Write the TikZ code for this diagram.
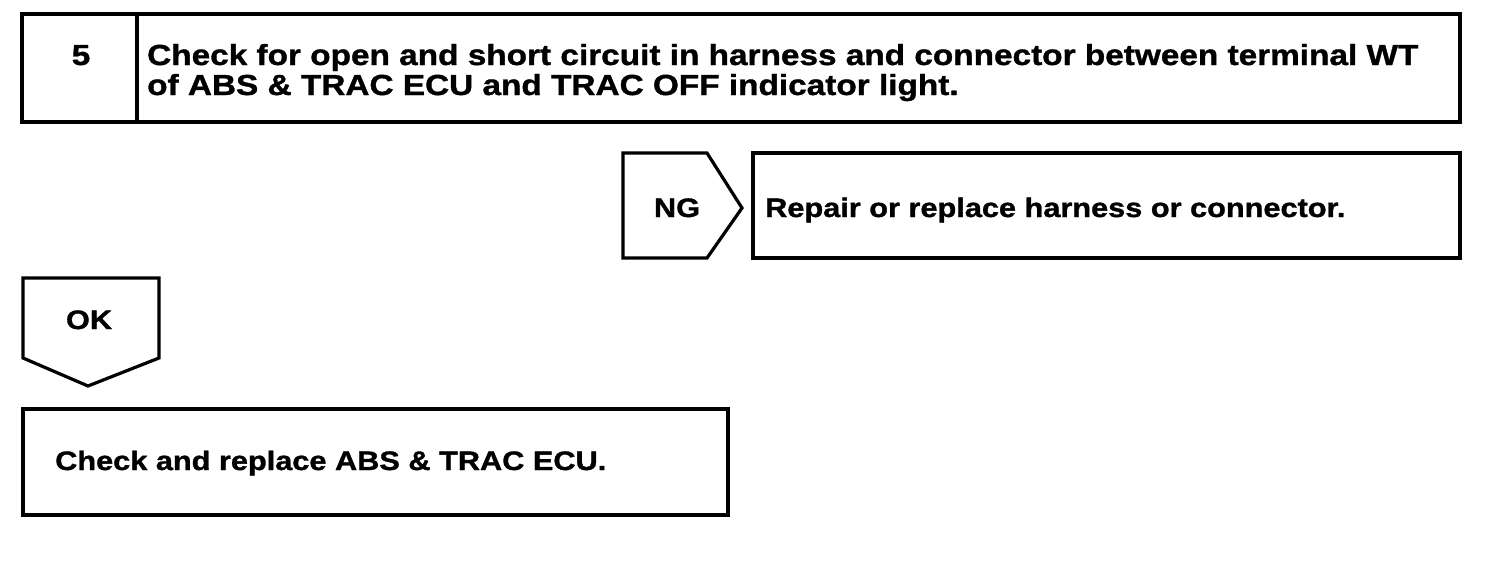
\documentclass[tikz,border=0pt]{standalone}
\usepackage{fontspec}
\setmainfont{Liberation Sans}
\newfontfamily\chartfont[FakeStretch=1.15, FakeBold=1.2]{Liberation Sans Bold}
\usepackage{tikz}

\begin{document}
\begin{tikzpicture}[x=1pt, y=-1pt,
    frame/.style={line width=3.2pt, line join=miter},
    label/.style={font=\chartfont\fontsize{29}{30}\selectfont, inner sep=0pt},
    small label/.style={label, font=\chartfont\fontsize{26.7}{30}\selectfont}]
    \useasboundingbox (0,0) rectangle (1504,568);
    % step 5 box
    \draw[frame] (22,14) rectangle (1460,122);
    \draw[frame] (137,14) -- (137,122);
    \node[label, anchor=base] (num) at (81,65) {5};
    \node[label, anchor=base west] (chk1) at (147,65) {Check for open and short circuit in harness and connector between terminal WT};
    \node[label, anchor=base west] (chk2) at (147,95) {of ABS \& TRAC ECU and TRAC OFF indicator light.};
    % NG branch
    \draw[frame] (623,153) -- (707,153) -- (742,208) -- (707,258) -- (623,258) -- cycle;
    \node[small label, anchor=base] (ng) at (677,217) {NG};
    \draw[frame] (753,153) rectangle (1460,258);
    \node[small label, anchor=base west] (fix) at (765,217) {Repair or replace harness or connector.};
    % OK branch
    \draw[frame] (23,278) -- (159,278) -- (159,358) -- (88,386) -- (23,358) -- cycle;
    \node[small label, anchor=base] (ok) at (89,329) {OK};
    \draw[frame] (23,409) rectangle (728,515);
    \node[small label, anchor=base west] (ecu) at (55,470) {Check and replace ABS \& TRAC ECU.};
\end{tikzpicture}
\end{document}
